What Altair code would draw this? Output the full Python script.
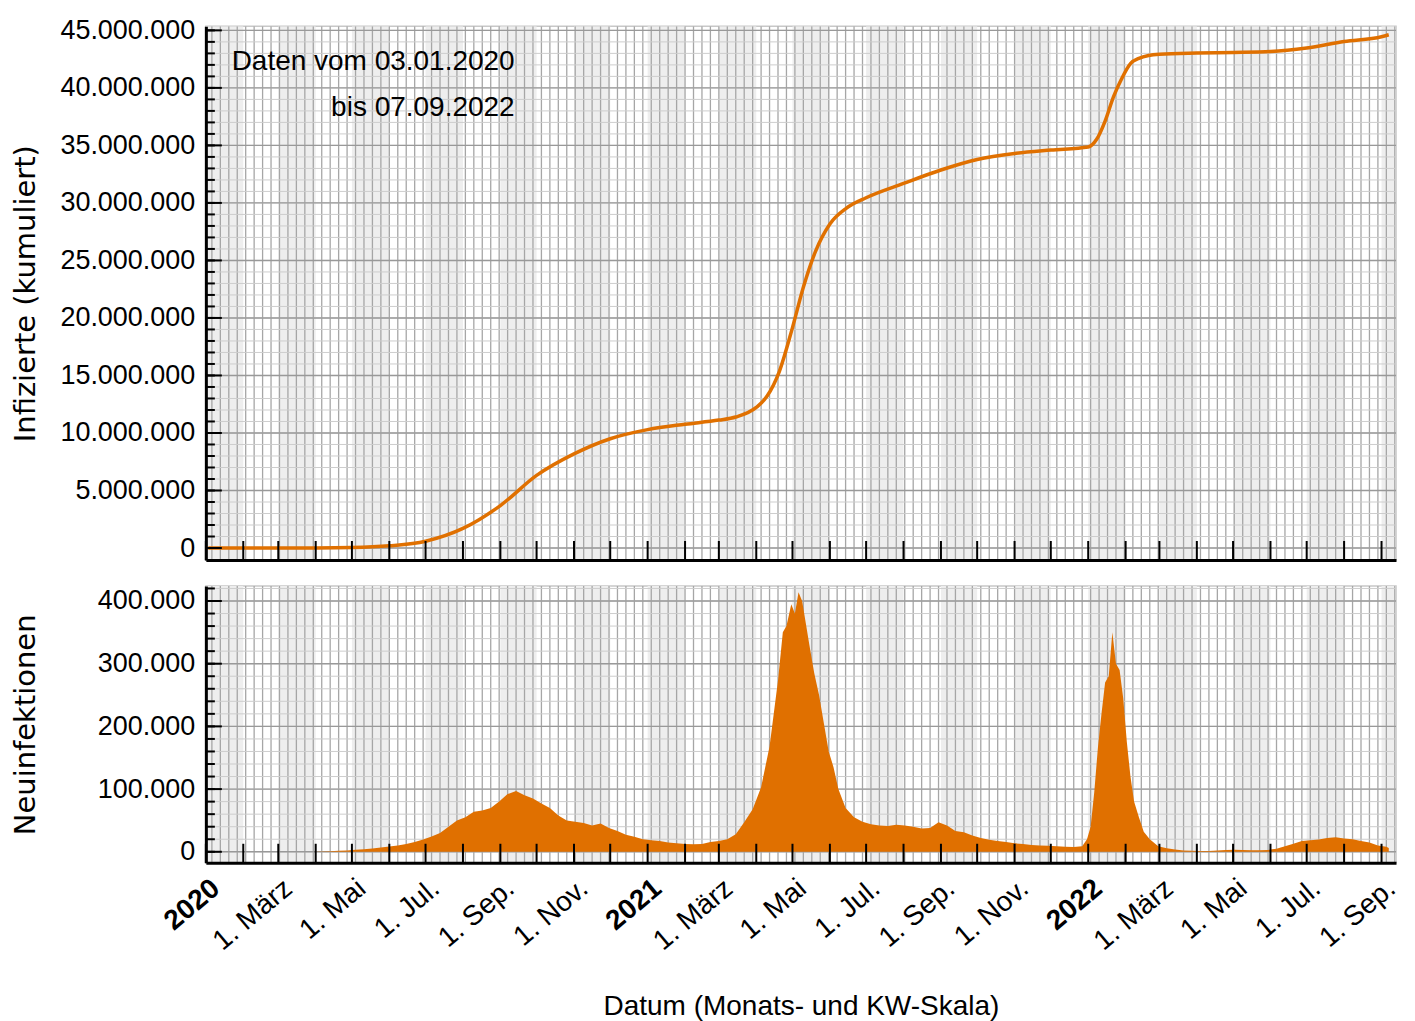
import altair as alt
import pandas as pd

ORANGE = "#E07000"
SANS = "Liberation Sans, Arial, sans-serif"
TITLE_FONT = "DejaVu Sans, Liberation Sans, sans-serif"
W, H1, H2 = 1191, 534, 277

# ---- cumulative infections (millions) ----
cum_dates = ["2020-01-03", "2020-03-01", "2020-04-01", "2020-05-01", "2020-06-01",
             "2020-07-01", "2020-08-01", "2020-09-01", "2020-10-01", "2020-11-01",
             "2020-12-01", "2021-01-01", "2021-02-01", "2021-03-01", "2021-03-15",
             "2021-04-01", "2021-04-10", "2021-04-20", "2021-05-01", "2021-05-10",
             "2021-05-20", "2021-06-01", "2021-06-15", "2021-07-01", "2021-08-01",
             "2021-09-01", "2021-10-01", "2021-11-01", "2021-12-01", "2022-01-01",
             "2022-01-08", "2022-01-15", "2022-01-22", "2022-01-29", "2022-02-05",
             "2022-02-12", "2022-02-20", "2022-03-01", "2022-04-01", "2022-05-01",
             "2022-06-01", "2022-07-01", "2022-08-01", "2022-09-01", "2022-09-07"]
cum_mio = [0, 0.00003, 0.0019, 0.035, 0.19,
           0.59, 1.70, 3.69, 6.31, 8.18,
           9.50, 10.29, 10.76, 11.12, 11.39,
           12.22, 13.21, 15.32, 19.16, 22.66,
           25.77, 28.17, 29.57, 30.45, 31.69,
           32.86, 33.77, 34.30, 34.60, 34.86,
           35.53, 37.12, 39.24, 40.86, 42.11,
           42.56, 42.82, 42.93, 43.03, 43.08,
           43.16, 43.47, 44.03, 44.45, 44.62]

# ---- daily new infections (thousands) ----
new_dates = ["2020-01-03", "2020-03-02", "2020-03-16", "2020-03-23", "2020-03-30",
             "2020-04-06", "2020-04-13", "2020-04-20", "2020-04-27", "2020-05-04",
             "2020-05-11", "2020-05-18", "2020-05-25", "2020-06-01", "2020-06-08",
             "2020-06-15", "2020-06-22", "2020-06-29", "2020-07-06", "2020-07-13",
             "2020-07-20", "2020-07-27", "2020-08-03", "2020-08-10", "2020-08-17",
             "2020-08-24", "2020-08-31", "2020-09-07", "2020-09-14", "2020-09-21",
             "2020-09-28", "2020-10-05", "2020-10-12", "2020-10-19", "2020-10-26",
             "2020-11-02", "2020-11-09", "2020-11-16", "2020-11-23", "2020-11-30",
             "2020-12-07", "2020-12-14", "2020-12-21", "2020-12-28", "2021-01-04",
             "2021-01-11", "2021-01-18", "2021-01-25", "2021-02-01", "2021-02-08",
             "2021-02-15", "2021-02-22", "2021-03-01", "2021-03-08", "2021-03-15",
             "2021-03-22", "2021-03-29", "2021-04-05", "2021-04-12", "2021-04-19",
             "2021-04-23", "2021-04-26", "2021-04-30", "2021-05-03", "2021-05-06",
             "2021-05-09", "2021-05-12", "2021-05-15", "2021-05-19", "2021-05-23",
             "2021-05-27", "2021-05-31", "2021-06-04", "2021-06-08", "2021-06-14",
             "2021-06-21", "2021-06-28", "2021-07-05", "2021-07-12", "2021-07-19",
             "2021-07-26", "2021-08-02", "2021-08-09", "2021-08-16", "2021-08-23",
             "2021-08-30", "2021-09-06", "2021-09-13", "2021-09-20", "2021-09-27",
             "2021-10-04", "2021-10-11", "2021-10-18", "2021-10-25", "2021-11-01",
             "2021-11-08", "2021-11-15", "2021-11-22", "2021-11-29", "2021-12-06",
             "2021-12-13", "2021-12-20", "2021-12-27", "2021-12-31", "2022-01-03",
             "2022-01-06", "2022-01-09", "2022-01-12", "2022-01-15", "2022-01-18",
             "2022-01-21", "2022-01-24", "2022-01-27", "2022-01-30", "2022-02-02",
             "2022-02-05", "2022-02-08", "2022-02-12", "2022-02-16", "2022-02-21",
             "2022-02-28", "2022-03-07", "2022-03-14", "2022-03-21", "2022-03-28",
             "2022-04-04", "2022-04-11", "2022-04-18", "2022-04-25", "2022-05-02",
             "2022-05-09", "2022-05-16", "2022-05-23", "2022-05-30", "2022-06-06",
             "2022-06-13", "2022-06-20", "2022-06-27", "2022-07-04", "2022-07-11",
             "2022-07-18", "2022-07-25", "2022-08-01", "2022-08-08", "2022-08-15",
             "2022-08-22", "2022-08-29", "2022-09-05", "2022-09-07"]
new_tsd = [0, 0, 0.02, 0.1, 0.2,
           0.6, 0.9, 1.5, 1.9, 3.2,
           4.0, 5.2, 6.8, 8.5, 10.0,
           12.5, 15.5, 19.5, 24.5, 30.0,
           40.0, 50.0, 55.0, 64.0, 66.0,
           70.0, 80.0, 92.0, 97.0, 90.0,
           85.0, 77.0, 70.0, 58.0, 50.0,
           48.0, 46.0, 42.0, 45.0, 38.0,
           33.0, 27.0, 24.0, 20.0, 18.5,
           17.0, 15.0, 13.5, 12.5, 12.0,
           12.5, 15.5, 17.0, 20.0, 28.0,
           47.0, 68.0, 103.0, 168.0, 273.0,
           350.0, 360.0, 395.0, 380.0, 414.0,
           400.0, 365.0, 330.0, 285.0, 250.0,
           205.0, 160.0, 135.0, 100.0, 70.0,
           55.0, 48.0, 44.0, 42.0, 41.0,
           43.0, 42.0, 40.0, 37.0, 38.0,
           47.0, 42.0, 33.0, 31.0, 26.0,
           22.0, 19.0, 17.0, 15.5, 13.5,
           12.5, 11.0, 10.0, 9.5, 9.0,
           8.0, 7.5, 9.0, 20.0, 40.0,
           95.0, 165.0, 220.0, 270.0, 280.0,
           350.0, 300.0, 290.0, 245.0, 175.0,
           120.0, 80.0, 55.0, 32.0, 20.0,
           9.0, 5.5, 3.5, 2.0, 1.8,
           1.3, 1.2, 2.0, 3.0, 3.3,
           3.0, 2.5, 2.5, 3.0, 5.0,
           9.0, 13.0, 17.0, 18.5, 19.5,
           22.0, 23.0, 21.0, 20.0, 17.0,
           15.0, 10.0, 8.0, 6.0]

top_major = [0, 5e6, 10e6, 15e6, 20e6, 25e6, 30e6, 35e6, 40e6, 45e6]
bot_major = [0, 100000, 200000, 300000, 400000]
label_months = [(2020, 1), (2020, 3), (2020, 5), (2020, 7), (2020, 9), (2020, 11),
                (2021, 1), (2021, 3), (2021, 5), (2021, 7), (2021, 9), (2021, 11),
                (2022, 1), (2022, 3), (2022, 5), (2022, 7), (2022, 9)]

# ---- tables ----
cum_df = pd.DataFrame({"date": cum_dates, "v": [m * 1e6 for m in cum_mio]})
new_df = pd.DataFrame({"date": new_dates, "v": [t * 1000 for t in new_tsd]})

months = pd.date_range("2020-01-01", "2022-10-01", freq="MS")
shade_df = pd.DataFrame({
    "start": [months[i].strftime("%Y-%m-%d") for i in range(len(months) - 1) if months[i].month % 2 == 1],
    "end": [months[i + 1].strftime("%Y-%m-%d") for i in range(len(months) - 1) if months[i].month % 2 == 1],
})
tick_df = pd.DataFrame({"d": [m.strftime("%Y-%m-%d") for m in months[:-1]]})
week_df = pd.DataFrame({"d": [w.strftime("%Y-%m-%d") for w in pd.date_range("2020-01-06", "2022-09-12", freq="7D")]})

X_DOMAIN = [alt.DateTime(year=2020, month=1, date=1, utc=True),
            alt.DateTime(year=2022, month=9, date=13, utc=True)]
XSCALE = alt.Scale(type="utc", domain=X_DOMAIN)

GER = "replace(format(datum.value, ','), regexp(',', 'g'), '.')"
MONTHS_EXPR = ("utcmonth(datum.value) == 0 ? utcFormat(datum.value, '%Y') : "
               "'1. ' + ['Jan.','Feb.','März','Apr.','Mai','Juni','Jul.','Aug.','Sep.','Okt.','Nov.','Dez.'][utcmonth(datum.value)]")


def y_axis(title, h, values):
    return alt.Axis(values=values, labelExpr=GER, labelFont=SANS, labelFontSize=27,
                    labelColor="black", labelPadding=11, labelFlush=False, ticks=False,
                    grid=False, domain=True, domainColor="black", domainWidth=3, zindex=1,
                    title=title, titleFont=TITLE_FONT, titleFontSize=29, titleFontWeight="normal",
                    titleColor="black", titleX=-180, titleY=h / 2, titleAngle=270,
                    titleAlign="center", titleBaseline="middle")


top_x_axis = alt.Axis(labels=False, ticks=False, grid=False, domain=True, zindex=1,
                      domainColor="black", domainWidth=3, title=None)

bot_x_axis = alt.Axis(
    values=[alt.DateTime(year=y, month=m, date=1, utc=True) for y, m in label_months],
    labelExpr=MONTHS_EXPR, labelAngle=320, labelFont=SANS, labelFontSize=28,
    labelFontWeight={"condition": {"test": "utcmonth(datum.value) == 0", "value": "bold"},
                     "value": "normal"},
    labelColor="black", labelAlign="right", labelBaseline="middle",
    labelPadding=22, labelOffset=10, labelOverlap=False, labelFlush=False, labelBound=False,
    ticks=False, grid=False, domain=True, domainColor="black", domainWidth=3, zindex=1,
    title="Datum (Monats- und KW-Skala)", titleFont=SANS, titleFontSize=28,
    titleFontWeight="normal", titleColor="black", titleX=W / 2, titleY=144,
    titleAlign="center", titleBaseline="middle")


def panel(h, ydom, minor_vals, major_vals, ytitle, xaxis, data_layer):
    yscale = alt.Scale(domain=ydom, nice=False, zero=False)
    yaxis = y_axis(ytitle, h, major_vals)

    def X(field):
        return alt.X(field, type="temporal", scale=XSCALE, axis=xaxis)

    def Y(field):
        return alt.Y(field, type="quantitative", scale=yscale, axis=yaxis)

    shade = alt.Chart(shade_df).mark_rect(color="#eeeeee", clip=True).encode(
        x=X("start"), x2="end", y=alt.value(0), y2=alt.value(h))
    weeks = alt.Chart(week_df).mark_rule(color="#a6a6a6", strokeWidth=1.3, clip=True).encode(
        x=X("d"))
    minor = alt.Chart(pd.DataFrame({"v": minor_vals})).mark_rule(
        color="#cdcdcd", strokeWidth=1).encode(y=Y("v"))
    major = alt.Chart(pd.DataFrame({"v": major_vals})).mark_rule(
        color="#999999", strokeWidth=1.4).encode(y=Y("v"))
    data = data_layer(X, Y)
    yt_minor = alt.Chart(pd.DataFrame({"v": minor_vals})).mark_rule(
        color="black", strokeWidth=2).encode(y=Y("v"), x=alt.value(0), x2=alt.value(9))
    yt_major = alt.Chart(pd.DataFrame({"v": major_vals})).mark_rule(
        color="black", strokeWidth=2).encode(y=Y("v"), x=alt.value(0), x2=alt.value(16))
    xt = alt.Chart(tick_df).mark_rule(color="black", strokeWidth=2).encode(
        x=X("d"), y=alt.value(h), y2=alt.value(h - 19))
    return [shade, weeks, minor, major, data, yt_minor, yt_major, xt]


def cum_layer(X, Y):
    return alt.Chart(cum_df).mark_line(color=ORANGE, strokeWidth=3.5, interpolate="monotone").encode(
        x=X("date"), y=Y("v"))


def new_layer(X, Y):
    return alt.Chart(new_df).mark_area(color=ORANGE, opacity=1, interpolate="linear").encode(
        x=X("date"), y=Y("v"), y2=alt.datum(0))


top_layers = panel(H1, [-1.04e6, 45.35e6], [i * 1e6 for i in range(0, 46)], top_major,
                   "Infizierte (kumuliert)", top_x_axis, cum_layer)
note = alt.Data(values=[{}])
top_layers.append(alt.Chart(note).mark_text(font=SANS, fontSize=28, align="right",
                                             baseline="middle", color="black").encode(
    x=alt.value(309), y=alt.value(36), text=alt.value("Daten vom 03.01.2020")))
top_layers.append(alt.Chart(note).mark_text(font=SANS, fontSize=28, align="right",
                                             baseline="middle", color="black").encode(
    x=alt.value(309), y=alt.value(82), text=alt.value("bis 07.09.2022")))

top = alt.layer(*top_layers).properties(width=W, height=H1)

bot_layers = panel(H2, [-17500, 424000], [i * 20000 for i in range(0, 22)], bot_major,
                   "Neuinfektionen", bot_x_axis, new_layer)
bottom = alt.layer(*bot_layers).properties(width=W, height=H2)

chart = alt.vconcat(top, bottom, spacing=23).properties(
    padding={"left": 3, "top": 7, "right": 5, "bottom": 5},
    background="white",
).configure_view(stroke="#c8c8c8", strokeWidth=1.5)

chart.save("out.html", embed_options={"renderer": "svg", "actions": False})
